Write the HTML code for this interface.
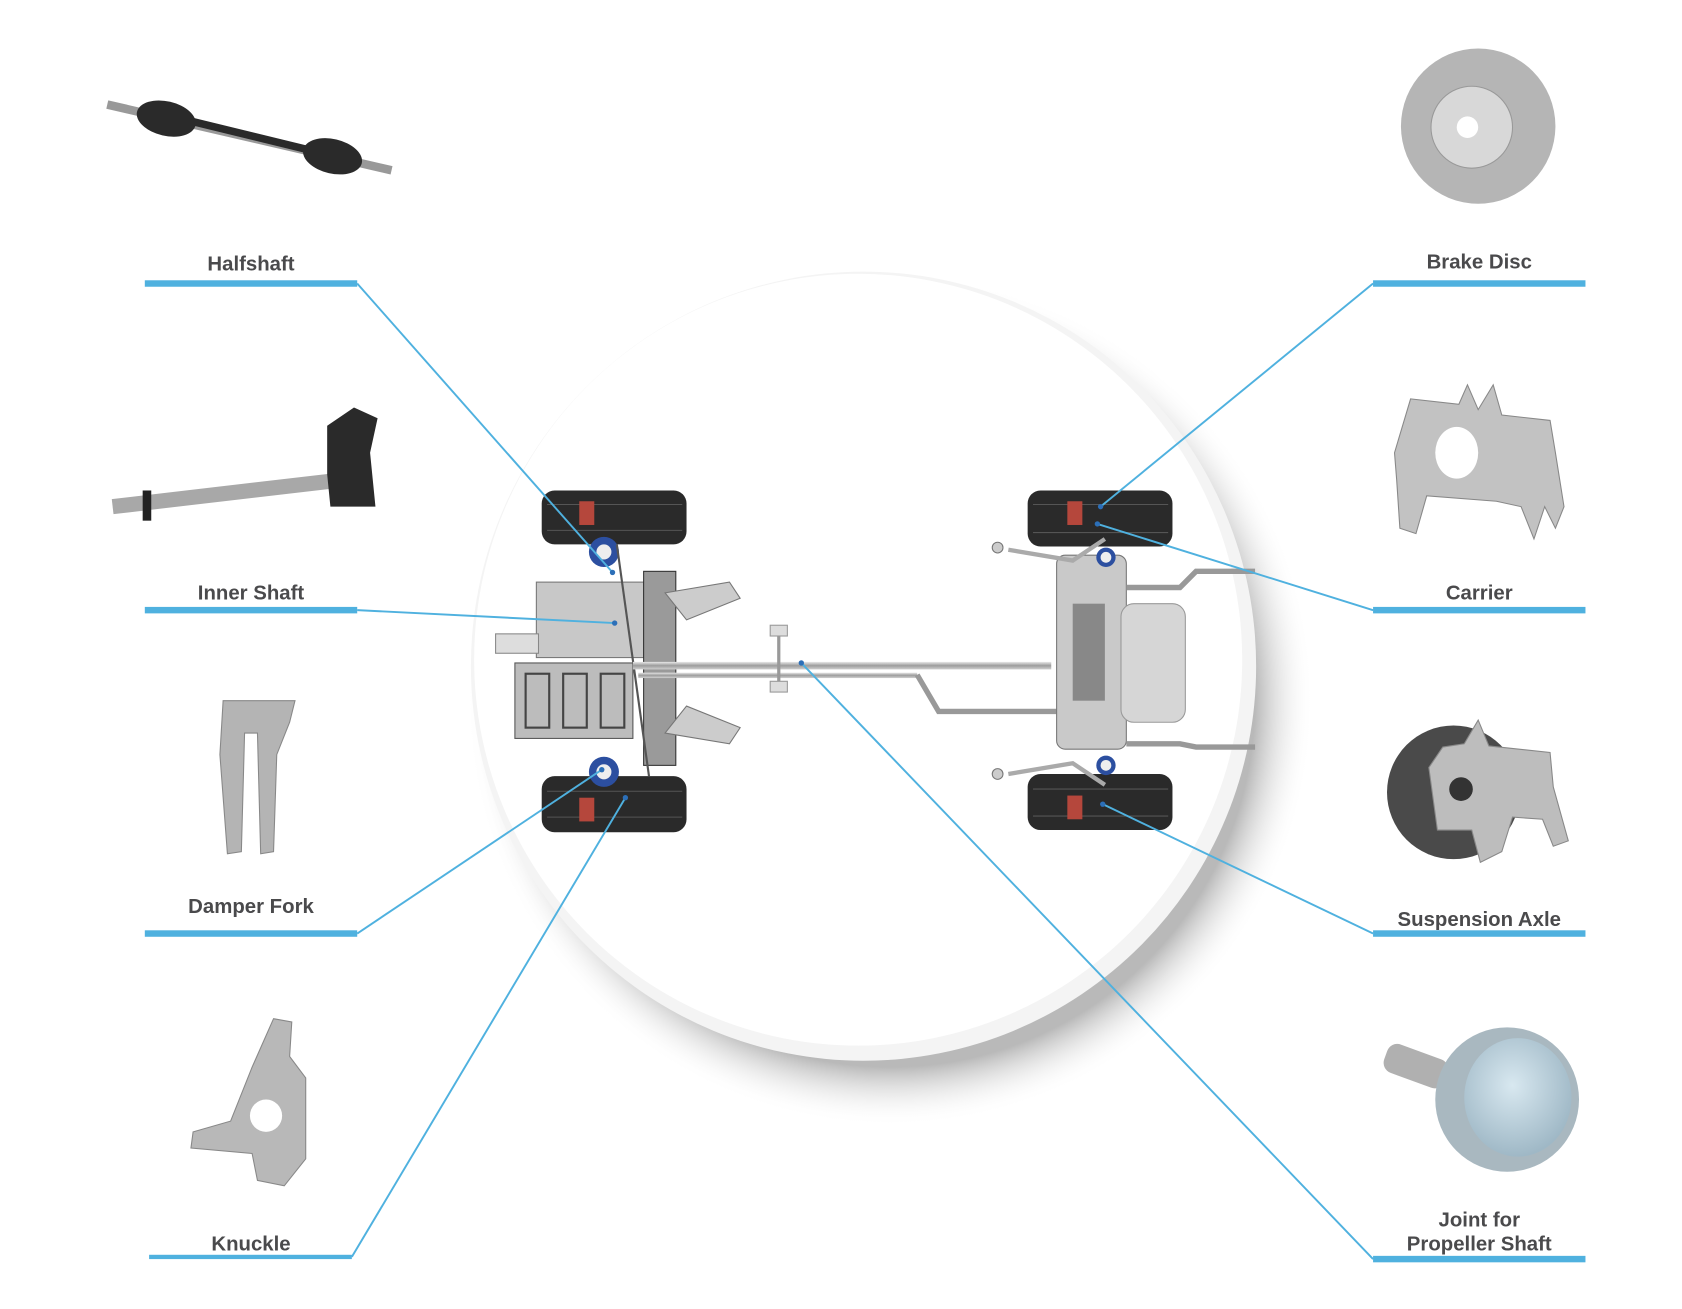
<!DOCTYPE html>
<html><head><meta charset="utf-8"><style>
html,body{margin:0;padding:0;background:#fff;}
svg{display:block;}
text{font-family:"Liberation Sans",Arial,sans-serif;font-weight:bold;fill:#4a4a4c;font-size:19px;text-anchor:middle;}
</style></head><body>
<svg width="1682" height="1309" viewBox="0 0 1568 1214.3" preserveAspectRatio="none" xmlns="http://www.w3.org/2000/svg">
<defs>
<radialGradient id="sh" cx="0.5" cy="0.5" r="0.5">
<stop offset="0.86" stop-color="#8a8a8a" stop-opacity="0.6"/>
<stop offset="1" stop-color="#fff" stop-opacity="0"/>
</radialGradient>
<linearGradient id="met" x1="0" y1="0" x2="0" y2="1">
<stop offset="0" stop-color="#e8e8e8"/><stop offset="0.5" stop-color="#9c9c9c"/><stop offset="1" stop-color="#d0d0d0"/>
</linearGradient>
<radialGradient id="jt" cx="0.45" cy="0.4" r="0.6">
<stop offset="0" stop-color="#d8e8f0"/><stop offset="1" stop-color="#9fb8c6"/>
</radialGradient>
</defs>

<circle cx="830" cy="650" r="395" fill="url(#sh)"/>
<circle cx="805" cy="618" r="366" fill="#f4f4f4"/>
<circle cx="800" cy="612" r="358" fill="#fff"/>

<g>
<rect x="505" y="455" width="135" height="50" rx="12" fill="#2a2a2a"/>
<rect x="505" y="720" width="135" height="52" rx="12" fill="#2a2a2a"/>
<rect x="958" y="455" width="135" height="52" rx="12" fill="#2a2a2a"/>
<rect x="958" y="718" width="135" height="52" rx="12" fill="#2a2a2a"/>
<g stroke="#555" stroke-width="1">
<line x1="510" y1="468" x2="636" y2="468"/><line x1="510" y1="492" x2="636" y2="492"/>
<line x1="510" y1="734" x2="636" y2="734"/><line x1="510" y1="758" x2="636" y2="758"/>
<line x1="963" y1="468" x2="1089" y2="468"/><line x1="963" y1="494" x2="1089" y2="494"/>
<line x1="963" y1="732" x2="1089" y2="732"/><line x1="963" y1="757" x2="1089" y2="757"/>
</g>
<rect x="540" y="465" width="14" height="22" fill="#b5473c"/>
<rect x="540" y="740" width="14" height="22" fill="#b5473c"/>
<rect x="995" y="465" width="14" height="22" fill="#b5473c"/>
<rect x="995" y="738" width="14" height="22" fill="#b5473c"/>
<rect x="500" y="540" width="100" height="70" fill="#c8c8c8" stroke="#777"/>
<rect x="480" y="615" width="110" height="70" fill="#bcbcbc" stroke="#555"/>
<g stroke="#444" stroke-width="2" fill="none">
<rect x="490" y="625" width="22" height="50"/><rect x="525" y="625" width="22" height="50"/><rect x="560" y="625" width="22" height="50"/>
</g>
<rect x="600" y="530" width="30" height="180" fill="#9a9a9a" stroke="#333"/>
<path d="M620 550 L680 540 L690 555 L640 575 Z" fill="#ccc" stroke="#777"/>
<path d="M620 680 L680 690 L690 675 L640 655 Z" fill="#ccc" stroke="#777"/>
<rect x="462" y="588" width="40" height="18" fill="#ddd" stroke="#888"/>
<circle cx="563" cy="512" r="14" fill="#2c4fa0"/><circle cx="563" cy="512" r="7" fill="#eee"/>
<circle cx="563" cy="716" r="14" fill="#2c4fa0"/><circle cx="563" cy="716" r="7" fill="#eee"/>
<line x1="575" y1="505" x2="605" y2="720" stroke="#555" stroke-width="2"/>
<rect x="590" y="614" width="390" height="7" fill="url(#met)"/>
<rect x="595" y="624" width="260" height="5" fill="url(#met)"/>
<path d="M855 626 L875 660 L985 660" stroke="#999" stroke-width="5" fill="none"/>
<rect x="718" y="580" width="16" height="10" fill="#ddd" stroke="#999"/>
<rect x="718" y="632" width="16" height="10" fill="#ddd" stroke="#999"/>
<line x1="726" y1="590" x2="726" y2="632" stroke="#999" stroke-width="3"/>
<rect x="985" y="515" width="65" height="180" rx="8" fill="#c9c9c9" stroke="#777"/>
<rect x="1045" y="560" width="60" height="110" rx="12" fill="#d6d6d6" stroke="#999"/>
<path d="M1050 545 L1100 545 L1115 530 L1170 530" stroke="#999" stroke-width="5" fill="none"/>
<path d="M1050 690 L1100 690 L1115 693 L1170 693" stroke="#999" stroke-width="5" fill="none"/>
<rect x="1000" y="560" width="30" height="90" fill="#888"/>
<path d="M940 510 L1000 520 L1030 500" stroke="#aaa" stroke-width="4" fill="none"/>
<path d="M940 718 L1000 708 L1030 728" stroke="#aaa" stroke-width="4" fill="none"/>
<circle cx="1031" cy="517" r="9" fill="#2c4fa0"/><circle cx="1031" cy="517" r="5" fill="#eee"/>
<circle cx="1031" cy="710" r="9" fill="#2c4fa0"/><circle cx="1031" cy="710" r="5" fill="#eee"/>
<circle cx="930" cy="508" r="5" fill="#ccc" stroke="#777"/><circle cx="930" cy="718" r="5" fill="#ccc" stroke="#777"/>
</g>

<g>
<line x1="100" y1="97" x2="365" y2="158" stroke="#999" stroke-width="8"/>
<line x1="160" y1="108" x2="300" y2="142" stroke="#2a2a2a" stroke-width="7"/>
<ellipse cx="155" cy="110" rx="28" ry="16" transform="rotate(13 155 110)" fill="#2a2a2a"/>
<ellipse cx="310" cy="145" rx="28" ry="16" transform="rotate(13 310 145)" fill="#2a2a2a"/>
</g>
<g>
<line x1="105" y1="470" x2="320" y2="445" stroke="#a8a8a8" stroke-width="14"/>
<rect x="133" y="455" width="8" height="28" fill="#222"/>
<path d="M305 395 L330 378 L352 388 L345 420 L350 470 L308 470 L305 440 Z" fill="#2a2a2a"/>
</g>
<path d="M208 650 L275 650 L270 670 L258 700 L255 790 L243 792 L240 680 L228 680 L225 790 L212 792 L205 700 Z" fill="#b4b4b4" stroke="#888"/>
<path d="M255 945 L272 948 L270 980 L285 1000 L285 1075 L265 1100 L240 1095 L235 1070 L178 1065 L180 1050 L215 1040 L235 990 Z" fill="#b8b8b8" stroke="#888"/>
<circle cx="248" cy="1035" r="15" fill="#fff"/>
<circle cx="1378" cy="117" r="72" fill="#b5b5b5"/>
<circle cx="1372" cy="118" r="38" fill="#d8d8d8" stroke="#999"/>
<circle cx="1368" cy="118" r="10" fill="#fff"/>
<path d="M1315 370 L1360 375 L1368 357 L1378 380 L1392 357 L1400 385 L1445 390 L1450 420 L1458 470 L1450 490 L1440 470 L1430 500 L1418 470 L1395 465 L1330 460 L1320 495 L1305 490 L1302 445 L1300 420 Z" fill="#c2c2c2" stroke="#888"/>
<ellipse cx="1358" cy="420" rx="20" ry="24" fill="#fff"/>
<circle cx="1355" cy="735" r="62" fill="#4a4a4a"/>
<path d="M1345 693 L1365 690 L1378 668 L1388 692 L1445 698 L1448 730 L1462 780 L1448 785 L1438 760 L1410 758 L1400 790 L1380 800 L1372 770 L1340 770 L1332 712 Z" fill="#bdbdbd" stroke="#888"/>
<circle cx="1362" cy="732" r="11" fill="#333"/>
<rect x="1290" y="975" width="60" height="28" rx="10" transform="rotate(20 1320 989)" fill="#b0b0b0"/>
<circle cx="1405" cy="1020" r="67" fill="#a9b8c0"/>
<ellipse cx="1415" cy="1018" rx="50" ry="55" fill="url(#jt)"/>

<g stroke="#4fb1df" stroke-width="1.8" fill="none">
<path d="M333 263 L571 531"/>
<path d="M333 566 L573 578"/>
<path d="M333 866 L561 714"/>
<path d="M328 1166 L583 740"/>
<path d="M1280 263 L1026 470"/>
<path d="M1280 566 L1023 486"/>
<path d="M1280 866 L1028 746"/>
<path d="M1280 1168 L747 615"/>
</g>
<g fill="#2c6fb8">
<circle cx="571" cy="531" r="2.5"/><circle cx="573" cy="578" r="2.5"/><circle cx="561" cy="714" r="2.5"/><circle cx="583" cy="740" r="2.5"/>
<circle cx="1026" cy="470" r="2.5"/><circle cx="1023" cy="486" r="2.5"/><circle cx="1028" cy="746" r="2.5"/><circle cx="747" cy="615" r="2.5"/>
</g>
<g fill="#4fb1df">
<rect x="135" y="260" width="198" height="6"/>
<rect x="135" y="563" width="198" height="6"/>
<rect x="135" y="863" width="198" height="6"/>
<rect x="139" y="1164" width="189" height="4"/>
<rect x="1280" y="260" width="198" height="6"/>
<rect x="1280" y="563" width="198" height="6"/>
<rect x="1280" y="863" width="198" height="6"/>
<rect x="1280" y="1165" width="198" height="6"/>
</g>
<text x="234" y="251">Halfshaft</text>
<text x="234" y="556">Inner Shaft</text>
<text x="234" y="847">Damper Fork</text>
<text x="234" y="1160">Knuckle</text>
<text x="1379" y="249">Brake Disc</text>
<text x="1379" y="556">Carrier</text>
<text x="1379" y="859">Suspension Axle</text>
<text x="1379" y="1138">Joint for</text>
<text x="1379" y="1160">Propeller Shaft</text>
</svg>
</body></html>
